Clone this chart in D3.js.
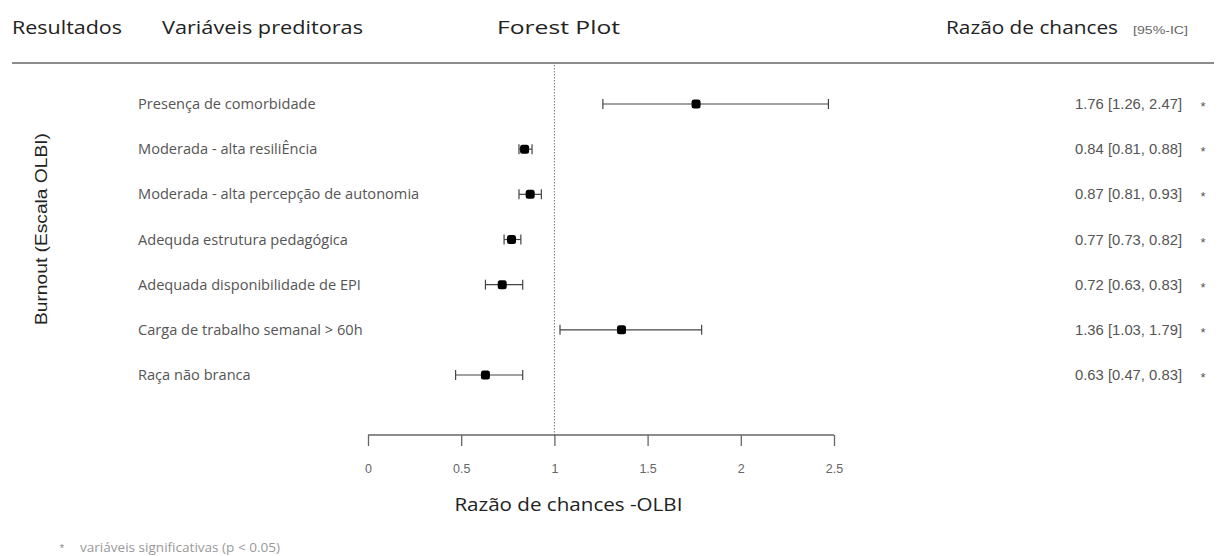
<!DOCTYPE html>
<html><head><meta charset="utf-8">
<script src="https://cdn.jsdelivr.net/npm/d3@7"></script>
<style>body{margin:0;background:#fff}</style></head>
<body><svg id="c" width="1221" height="556"></svg>
<script>
const predictors = ["Presença de comorbidade","Moderada - alta resiliÊncia","Moderada - alta percepção de autonomia","Adequda estrutura pedagógica","Adequada disponibilidade de EPI","Carga de trabalho semanal > 60h","Raça não branca"];
const oddsRatio = [1.76,0.84,0.87,0.77,0.72,1.36,0.63];
const ciLower = [1.26,0.81,0.81,0.73,0.63,1.03,0.47];
const ciUpper = [2.47,0.88,0.93,0.82,0.83,1.79,0.83];
const xTicks = [0,0.5,1,1.5,2,2.5];

const svg = d3.select("#c");
const x = d3.scaleLinear().domain([0,2.5]).range([368,834]);
const y = d3.scalePoint().domain(d3.range(predictors.length)).range([104,375]);
const fmt = d3.format(".2f");
const HF = "'Open Sans',sans-serif";
const SF = "'Liberation Sans',Arial,sans-serif";

// headers
const hdr = [["Resultados",12,110],["Variáveis preditoras",162,201],["Forest Plot",497,123],["Razão de chances",946,172]];
svg.selectAll("text.h").data(hdr).join("text").attr("class","h")
  .attr("x",d=>d[1]).attr("y",34).attr("textLength",d=>d[2]).attr("lengthAdjust","spacingAndGlyphs")
  .attr("font-family",HF).attr("font-size",19).attr("fill","#222").text(d=>d[0]);
svg.append("text").attr("x",1133).attr("y",34).attr("textLength",55).attr("lengthAdjust","spacingAndGlyphs")
  .attr("font-family",SF).attr("font-size",11).attr("fill","#666").text("[95%-IC]");
svg.append("line").attr("x1",12).attr("x2",1214).attr("y1",63).attr("y2",63).attr("stroke","#666").attr("stroke-width",1.4);

// reference line
svg.append("line").attr("x1",x(1)).attr("x2",x(1)).attr("y1",65).attr("y2",436)
  .attr("stroke","#777").attr("stroke-dasharray","1.5,1.5");

// axis
const ax = svg.append("g").attr("transform","translate(0,435)")
  .call(d3.axisBottom(x).tickValues(xTicks).tickSize(11).tickFormat(d3.format("")));
ax.select(".domain").attr("stroke","#666").attr("stroke-width",1.3).attr("d",`M${x(0)},0H${x(2.5)}`);
ax.selectAll(".tick line").attr("stroke","#666").attr("stroke-width",1.3);
ax.selectAll(".tick text").attr("y",29).attr("font-family",SF).attr("font-size",12.5).attr("fill","#666");
svg.append("text").attr("x",x(1)+14).attr("y",511).attr("text-anchor","middle")
  .attr("textLength",228).attr("lengthAdjust","spacingAndGlyphs")
  .attr("font-family",HF).attr("font-size",19).attr("fill","#222").text("Razão de chances -OLBI");

// y label
svg.append("text").attr("transform","translate(47,229) rotate(-90)").attr("text-anchor","middle")
  .attr("textLength",192).attr("lengthAdjust","spacingAndGlyphs")
  .attr("font-family",SF).attr("font-size",16).attr("fill","#222").text("Burnout (Escala OLBI)");

const rows = svg.selectAll("g.row").data(predictors).join("g").attr("class","row");
rows.append("text").attr("x",138).attr("y",(d,i)=>y(i)+5).attr("font-family",HF)
  .attr("font-size",14.6).attr("fill","#555").text(d=>d);
rows.append("line").attr("x1",(d,i)=>x(ciLower[i])).attr("x2",(d,i)=>x(ciUpper[i]))
  .attr("y1",(d,i)=>y(i)).attr("y2",(d,i)=>y(i)).attr("stroke","#444").attr("stroke-width",1.2);
rows.append("line").attr("x1",(d,i)=>x(ciLower[i])).attr("x2",(d,i)=>x(ciLower[i]))
  .attr("y1",(d,i)=>y(i)-5).attr("y2",(d,i)=>y(i)+5).attr("stroke","#444").attr("stroke-width",1.2);
rows.append("line").attr("x1",(d,i)=>x(ciUpper[i])).attr("x2",(d,i)=>x(ciUpper[i]))
  .attr("y1",(d,i)=>y(i)-5).attr("y2",(d,i)=>y(i)+5).attr("stroke","#444").attr("stroke-width",1.2);
rows.append("rect").attr("x",(d,i)=>x(oddsRatio[i])-4.5).attr("y",(d,i)=>y(i)-4.5).attr("width",9).attr("height",9)
  .attr("rx",2.5).attr("fill","#000");
rows.append("text").attr("x",1075).attr("y",(d,i)=>y(i)+5).attr("font-family",SF)
  .attr("textLength",107).attr("lengthAdjust","spacingAndGlyphs")
  .attr("font-size",14).attr("fill","#555").text((d,i)=>`${fmt(oddsRatio[i])} [${fmt(ciLower[i])}, ${fmt(ciUpper[i])}]`);
rows.append("text").attr("x",1203).attr("y",(d,i)=>y(i)+7).attr("font-family",SF)
  .attr("font-size",13).attr("fill","#555").attr("text-anchor","middle").text("*");

svg.append("text").attr("x",62).attr("y",552).attr("font-family",SF).attr("text-anchor","middle")
  .attr("font-size",11).attr("fill","#888").text("*");
svg.append("text").attr("x",80).attr("y",552).attr("textLength",200).attr("lengthAdjust","spacingAndGlyphs")
  .attr("font-family",HF).attr("font-size",12).attr("fill","#999").text("variáveis significativas (p < 0.05)");
</script></body></html>
